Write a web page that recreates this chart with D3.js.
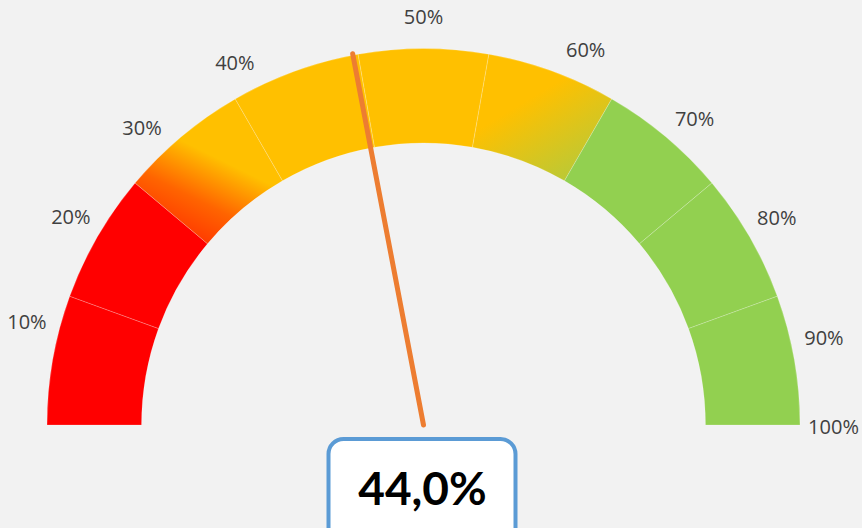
<!DOCTYPE html>
<html>
<head>
<meta charset="utf-8">
<script src="https://cdn.jsdelivr.net/npm/d3@7"></script>
<style>
  body { margin: 0; background: #f2f2f2; }
  svg { display: block; }
</style>
</head>
<body>
<div id="chart"></div>
<script>
// gauge data
var tickLabels = ["10%", "20%", "30%", "40%", "50%", "60%", "70%", "80%", "90%", "100%"];
var segmentSizes = [1, 1, 1, 1, 1, 1, 1, 1, 1];
var segmentZones = ["low", "low", "lowMid", "mid", "mid", "midHigh", "high", "high", "high"];
var gaugeValue = 44.0;

var width = 862, height = 528;
var cx = 423.5, cy = 425;
var outerR = 376.5, innerR = 282;

var svg = d3.select("#chart").append("svg")
    .attr("width", width)
    .attr("height", height);

svg.append("rect")
    .attr("width", width)
    .attr("height", height)
    .attr("fill", "#f2f2f2");

var g = svg.append("g")
    .attr("transform", "translate(" + cx + "," + cy + ")");

var zoneColor = { low: "#ff0000", mid: "#ffc000", high: "#92d050" };

var pie = d3.pie()
    .sort(null)
    .startAngle(-Math.PI / 2)
    .endAngle(Math.PI / 2);

var arc = d3.arc()
    .innerRadius(innerR)
    .outerRadius(outerR);

var arcs = pie(segmentSizes);

function pointAt(angle, r) {
    return [r * Math.sin(angle), -r * Math.cos(angle)];
}

// gradients for the blended segments
var defs = svg.append("defs");
arcs.forEach(function(d, i) {
    var zone = segmentZones[i];
    if (zone !== "lowMid" && zone !== "midHigh") return;
    var p0, p1, stops;
    if (zone === "lowMid") {
        p0 = pointAt(d.startAngle, innerR);
        p1 = pointAt(d.endAngle, (innerR + outerR) / 2);
        stops = [[0, "#ff3c00"], [0.3, "#ff6400"], [0.7, "#ffc000"], [1, "#ffc000"]];
    } else {
        p0 = pointAt(d.startAngle, outerR);
        p1 = pointAt(d.endAngle, innerR);
        stops = [[0, "#ffc000"], [0.4, "#ffc000"], [1, "#bcc935"]];
    }
    var grad = defs.append("linearGradient")
        .attr("id", "grad" + i)
        .attr("gradientUnits", "userSpaceOnUse")
        .attr("x1", p0[0]).attr("y1", p0[1])
        .attr("x2", p1[0]).attr("y2", p1[1]);
    stops.forEach(function(s) {
        grad.append("stop").attr("offset", s[0]).attr("stop-color", s[1]);
    });
});

g.selectAll("path.seg")
    .data(arcs)
    .enter()
    .append("path")
    .attr("class", "seg")
    .attr("d", arc)
    .attr("fill", function(d, i) {
        var z = segmentZones[i];
        return zoneColor[z] || "url(#grad" + i + ")";
    })
    .attr("stroke", "rgba(255,255,255,0.3)")
    .attr("stroke-width", 0.7);

// tick labels (placed around the arc, spread a bit unevenly like the original)
var labelAngle = d3.scaleLinear()
    .domain([10, 40, 50, 60, 90, 100])
    .range([-75.3, -27.4, 0, 23.3, 77.6, 90]);
var labelR = 410;

g.selectAll("text.tick")
    .data(tickLabels)
    .enter()
    .append("text")
    .attr("class", "tick")
    .attr("x", function(d) { return labelR * Math.sin(labelAngle(parseFloat(d)) * Math.PI / 180); })
    .attr("y", function(d) { return -labelR * Math.cos(labelAngle(parseFloat(d)) * Math.PI / 180) + 1; })
    .attr("text-anchor", "middle")
    .attr("dominant-baseline", "central")
    .attr("font-family", "'Open Sans', Lato, sans-serif")
    .attr("font-size", "20px")
    .attr("fill", "#404040")
    .text(function(d) { return d; });

// needle
var valueAngle = d3.scaleLinear().domain([0, 100]).range([-Math.PI / 2, Math.PI / 2]);
var tip = pointAt(valueAngle(gaugeValue), 378);
g.append("line")
    .attr("x1", 0).attr("y1", 0)
    .attr("x2", tip[0]).attr("y2", tip[1])
    .attr("stroke", "#ed7d31")
    .attr("stroke-width", 5)
    .attr("stroke-linecap", "round");

// value box
g.append("rect")
    .attr("x", -95)
    .attr("y", 14)
    .attr("width", 187)
    .attr("height", 110)
    .attr("rx", 15)
    .attr("fill", "#ffffff")
    .attr("stroke", "#5b9bd5")
    .attr("stroke-width", 4);

g.append("text")
    .attr("x", -1)
    .attr("y", 80)
    .attr("text-anchor", "middle")
    .attr("font-family", "Lato, 'Open Sans', sans-serif")
    .attr("font-weight", "bold")
    .attr("font-size", "46px")
    .attr("fill", "#000000")
    .text(d3.format(".1f")(gaugeValue).replace(".", ",") + "%");
</script>
</body>
</html>
